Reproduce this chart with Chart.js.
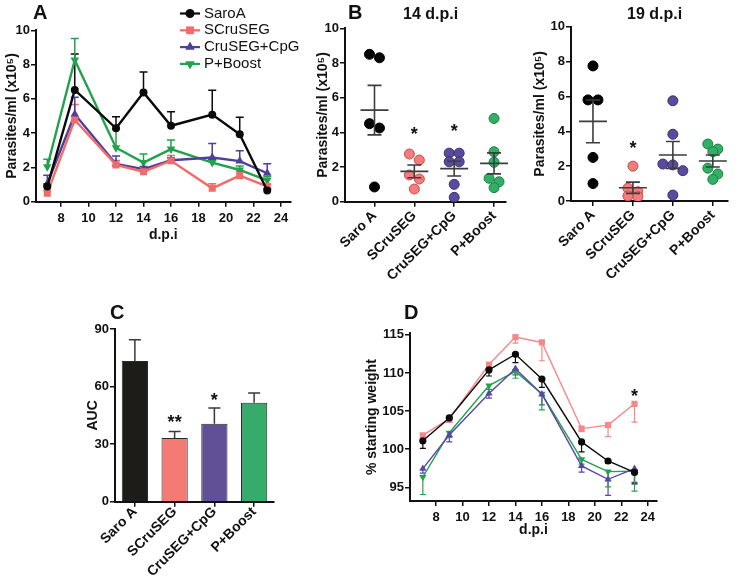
<!DOCTYPE html>
<html>
<head>
<meta charset="utf-8">
<script src="https://cdn.jsdelivr.net/npm/chart.js@4/dist/chart.umd.min.js"></script>
<style>
  body { margin: 0; background: #fff; }
  #page { position: relative; width: 738px; height: 579px; overflow: hidden; font-family: "Liberation Sans", Arial, sans-serif; color: #111; }
  #page canvas { position: absolute; }
  .tag { position: absolute; font-weight: bold; line-height: 1; white-space: nowrap; }
</style>
</head>
<body>
<div id="page">
  <canvas id="chart-a"></canvas>
  <canvas id="chart-b14"></canvas>
  <canvas id="chart-b19"></canvas>
  <canvas id="chart-c"></canvas>
  <canvas id="chart-d"></canvas>
  <div class="tag" style="left:33px;top:2px;font-size:20px">A</div>
  <div class="tag" style="left:348px;top:2px;font-size:20px">B</div>
  <div class="tag" style="left:403px;top:6px;font-size:16px">14 d.p.i</div>
  <div class="tag" style="left:627px;top:6px;font-size:16px">19 d.p.i</div>
  <div class="tag" style="left:110px;top:302px;font-size:20px">C</div>
  <div class="tag" style="left:404px;top:302px;font-size:20px">D</div>
</div>
<script>
// ---- data ----
const dpi = [7, 9, 12, 14, 16, 19, 21, 23];
const dpiTicks = [8, 10, 12, 14, 16, 18, 20, 22, 24];
const groups = ["Saro A", "SCruSEG", "CruSEG+CpG", "P+Boost"];
const legendNames = ["SaroA", "SCruSEG", "CruSEG+CpG", "P+Boost"];

// A: parasitaemia (x10^5), mean and upper SEM
const paraSaroA = [0.88, 6.52, 4.28, 6.37, 4.43, 5.08, 3.93, 0.65];
const paraSaroAErr = [0.15, 2.1, 0.68, 1.2, 0.82, 1.42, 0.99, 0.1];
const paraSCruSEG = [0.5, 4.77, 2.15, 1.75, 2.39, 0.78, 1.52, 0.9];
const paraSCruSEGErr = [0.15, 0.9, 0.25, 0.15, 0.3, 0.27, 0.25, 0.12];
const paraCpG = [1.05, 5.1, 2.2, 1.9, 2.42, 2.58, 2.37, 1.66];
const paraCpGErr = [0.5, 1.0, 0.47, 0.15, 0.15, 0.82, 0.6, 0.55];
const paraBoost = [2.04, 8.27, 3.15, 2.28, 3.07, 2.28, 1.85, 1.25];
const paraBoostErr = [0.43, 1.25, 1.1, 0.5, 0.53, 0.15, 0.23, 0.2];
const parasiteTicks = [0, 2, 4, 6, 8, 10];

// B: individual mice
const d14SaroA = [8.5, 8.3, 4.5, 4.25, 0.85];
const d14SCruSEG = [2.75, 2.4, 1.54, 1.31, 0.73];
const d14CpG = [2.8, 2.8, 2.3, 2.3, 1.0, 0.25];
const d14Boost = [4.8, 2.88, 2.27, 1.35, 1.15, 0.81];
const d14StarText = ["", "*", "*", ""];
const d14StarAt = [0, 4.0, 4.2, 0];
const d19SaroA = [7.75, 5.8, 5.8, 2.5, 1.0];
const d19SCruSEG = [2.0, 0.73, 0.53, 0.29, 0.25];
const d19CpG = [5.75, 3.83, 2.12, 2.07, 1.74, 0.34];
const d19Boost = [3.27, 2.98, 2.83, 1.88, 1.55, 1.24];
const d19StarText = ["", "*", "", ""];
const d19StarAt = [0, 3.15, 0, 0];

// C: area under curve
const aucMean = [73.3, 33.2, 40.6, 51.6];
const aucErr = [11.1, 3.4, 8.2, 5.0];
const aucStarText = ["", "**", "*", ""];
const aucStarAt = [0, 42.5, 53.8, 0];
const aucTicks = [0, 30, 60, 90];

// D: % starting weight, mean and lower SEM
const wSaroA = [101.1, 104.1, 110.4, 112.45, 109.2, 100.95, 98.45, 96.95];
const wSaroAErr = [1.0, 0.6, 0.8, 1.1, 1.1, 1.3, 0.3, 1.5];
const wSCruSEG = [101.8, 104.0, 111.1, 114.7, 114.0, 102.7, 103.15, 105.95];
const wSCruSEGErr = [0.3, 0.5, 0.8, 0.8, 2.4, 0.4, 1.5, 2.4];
const wCpG = [97.45, 101.85, 107.3, 110.55, 107.2, 97.8, 96.05, 97.45];
const wCpGErr = [0.6, 0.9, 0.6, 0.8, 1.4, 0.8, 2.1, 1.8];
const wBoost = [96.35, 102.15, 108.35, 110.2, 107.25, 98.65, 97.05, 97.1];
const wBoostErr = [2.3, 0.6, 0.5, 0.9, 2.1, 0.6, 2.0, 2.6];
const weightStarText = ["*"];
const weightStarX = [23];
const weightStarAt = [107.2];
const weightTicks = [95, 100, 105, 110, 115];

// ---- look ----
const FONT = "'Liberation Sans', Arial, sans-serif";
Chart.defaults.font.family = FONT;
Chart.defaults.color = "#111";
Chart.defaults.animation = false;

const tickFont = { size: 13, weight: "bold" };
const groupFont = { size: 14, weight: "bold" };
const titleFont = { size: 14, weight: "bold" };
const axisBorder = { color: "#111", width: 2 };
const axisGrid = { drawOnChartArea: false, drawTicks: true, tickLength: 5, color: "#111", lineWidth: 1.5, offset: false };

function place(id, box) {
  const c = document.getElementById(id);
  c.width = box.width;
  c.height = box.height;
  c.style.left = box.left + "px";
  c.style.top = box.top + "px";
  c.style.width = box.width + "px";
  c.style.height = box.height + "px";
  return c;
}

// padding so that the plot area lands where it does in the figure
function frame(box, area, yw, xh) {
  return {
    left: area.left - box.left - yw,
    top: area.top - box.top,
    right: box.left + box.width - area.right,
    bottom: box.top + box.height - area.bottom - xh,
  };
}

function fixTicks(list) {
  return (s) => { s.ticks = list.map((v) => ({ value: v })); };
}

function drawMarker(ctx, style, x, y, r) {
  ctx.beginPath();
  if (style === "circle") {
    ctx.arc(x, y, r, 0, Math.PI * 2);
  } else if (style === "rect") {
    const s = r * Math.SQRT1_2;
    ctx.rect(x - s, y - s, 2 * s, 2 * s);
  } else {
    const dir = style === "triangle" ? 1 : -1;
    ctx.moveTo(x, y - dir * r);
    ctx.lineTo(x + r * 0.866, y + dir * r * 0.5);
    ctx.lineTo(x - r * 0.866, y + dir * r * 0.5);
    ctx.closePath();
  }
  ctx.fill();
}

// ---- plugins ----
const errorBars = {
  id: "errorBars",
  beforeDatasetsDraw(chart) {
    const ctx = chart.ctx;
    chart.data.datasets.forEach((ds, i) => {
      if (!ds.errors) return;
      const meta = chart.getDatasetMeta(i);
      const ys = chart.scales[meta.yAxisID];
      ctx.save();
      ctx.strokeStyle = ds.errorColor || ds.borderColor;
      ctx.lineWidth = ds.errorWidth || 1.5;
      meta.data.forEach((el, j) => {
        const raw = ds.data[j];
        const v = typeof raw === "object" ? raw.y : raw;
        const end = ys.getPixelForValue(v + ds.errorDir * ds.errors[j]);
        ctx.beginPath();
        ctx.moveTo(el.x, el.y);
        ctx.lineTo(el.x, end);
        ctx.moveTo(el.x - ds.capHalf, end);
        ctx.lineTo(el.x + ds.capHalf, end);
        ctx.stroke();
      });
      ctx.restore();
    });
  },
};

const meanSem = {
  id: "meanSem",
  afterDatasetsDraw(chart) {
    const { ctx } = chart;
    const xs = chart.scales.x, ys = chart.scales.y;
    ctx.save();
    ctx.strokeStyle = "#3d3d3d";
    ctx.lineWidth = 1.6;
    chart.data.datasets.forEach((ds, g) => {
      const vals = ds.data.map((p) => p.y);
      const n = vals.length;
      const mean = vals.reduce((a, b) => a + b, 0) / n;
      const sd = Math.sqrt(vals.reduce((a, b) => a + (b - mean) ** 2, 0) / (n - 1));
      const sem = sd / Math.sqrt(n);
      const cx = xs.getPixelForValue(g);
      const ym = ys.getPixelForValue(mean);
      const lo = ys.getPixelForValue(mean - sem);
      const hi = ys.getPixelForValue(mean + sem);
      ctx.beginPath();
      ctx.moveTo(cx - 14, ym); ctx.lineTo(cx + 14, ym);
      ctx.moveTo(cx, lo); ctx.lineTo(cx, hi);
      ctx.moveTo(cx - 7, lo); ctx.lineTo(cx + 7, lo);
      ctx.moveTo(cx - 7, hi); ctx.lineTo(cx + 7, hi);
      ctx.stroke();
    });
    ctx.restore();
  },
};

const stars = {
  id: "stars",
  afterDatasetsDraw(chart, args, opts) {
    if (!opts.texts) return;
    const { ctx } = chart;
    ctx.save();
    ctx.fillStyle = "#111";
    ctx.font = "bold 18px " + FONT;
    ctx.textAlign = "center";
    ctx.textBaseline = "middle";
    opts.texts.forEach((t, i) => {
      if (!t) return;
      const x = chart.scales.x.getPixelForValue(opts.xs[i]);
      const y = chart.scales.y.getPixelForValue(opts.at[i]);
      ctx.fillText(t, x, y + 3);
    });
    ctx.restore();
  },
};

const lineLegend = {
  id: "lineLegend",
  afterDraw(chart, args, opts) {
    if (!opts.names) return;
    const { ctx } = chart;
    ctx.save();
    chart.data.datasets.forEach((ds, i) => {
      const y = opts.top + i * opts.step;
      ctx.strokeStyle = ds.borderColor;
      ctx.fillStyle = ds.backgroundColor;
      ctx.lineWidth = 2.2;
      ctx.beginPath();
      ctx.moveTo(opts.x, y);
      ctx.lineTo(opts.x + 20, y);
      ctx.stroke();
      drawMarker(ctx, ds.legendMarker, opts.x + 10, y, ds.pointRadius + 0.5);
      ctx.fillStyle = "#111";
      ctx.font = "15px " + FONT;
      ctx.textAlign = "left";
      ctx.textBaseline = "middle";
      ctx.fillText(opts.names[i], opts.x + 24, y);
    });
    ctx.restore();
  },
};

// ---- helpers for series ----
function timeSeries(values, errors, color, style, marker, radius, dir, lw) {
  return {
    data: dpi.map((d, i) => ({ x: d, y: values[i] })),
    borderColor: color,
    backgroundColor: color,
    borderWidth: lw,
    pointStyle: style,
    pointRotation: marker === "triangleDown" ? 180 : 0,
    legendMarker: marker,
    pointRadius: radius,
    pointBorderWidth: 0,
    errors,
    errorDir: dir,
    capHalf: 4,
    errorWidth: 1.5,
  };
}

function swarm(values, group) {
  const sorted = [...values].sort((a, b) => b - a);
  const rows = [];
  sorted.forEach((v) => {
    const row = rows[rows.length - 1];
    if (row && row[0] - v < 0.4) row.push(v);
    else rows.push([v]);
  });
  const pts = [];
  rows.forEach((row) => row.forEach((v, k) => pts.push({ x: group + (k - (row.length - 1) / 2) * 0.25, y: v })));
  return pts;
}

const dotFill = ["#050505", "#f47c7c", "#5b4b9c", "#2fb065"];
const dotEdge = ["#000000", "#c94b4b", "#3d2f7a", "#1b7f45"];

function linearY(min, max, ticks, yw, title) {
  return {
    min, max,
    afterBuildTicks: fixTicks(ticks),
    afterFit: (s) => { s.width = yw; s.paddingTop = 0; s.paddingBottom = 0; },
    grid: axisGrid,
    border: axisBorder,
    ticks: { font: tickFont, color: "#111", padding: 1 },
    title: { display: true, text: title, font: titleFont, color: "#111", padding: 0 },
  };
}

// ---- A ----
const boxA = { left: 0, top: 0, width: 300, height: 248 };
new Chart(place("chart-a", boxA), {
  type: "line",
  data: {
    datasets: [
      timeSeries(paraSaroA, paraSaroAErr, "#0a0a0a", "circle", "circle", 4, 1, 2.4),
      timeSeries(paraSCruSEG, paraSCruSEGErr, "#f36a6a", "rect", "rect", 5, 1, 2.4),
      timeSeries(paraCpG, paraCpGErr, "#4e3f9b", "triangle", "triangle", 5, 1, 2.4),
      timeSeries(paraBoost, paraBoostErr, "#22a24c", "triangle", "triangleDown", 5, 1, 2.4),
    ],
  },
  options: {
    responsive: false,
    layout: { padding: frame(boxA, { left: 36, top: 30.3, right: 290.6, bottom: 201.7 }, 32.4, 41.7) },
    plugins: {
      legend: { display: false },
      tooltip: { enabled: false },
      lineLegend: { names: legendNames, x: 180, top: 13.5, step: 16.8 },
    },
    scales: {
      x: {
        type: "linear", min: 6.18, max: 24.7,
        afterBuildTicks: fixTicks(dpiTicks),
        afterFit: (s) => { s.height = 41.7; s.paddingLeft = 0; s.paddingRight = 0; },
        grid: axisGrid, border: axisBorder,
        ticks: { font: tickFont, color: "#111", padding: 4, maxRotation: 0 },
        title: { display: true, text: "d.p.i", font: titleFont, color: "#111", padding: 0 },
      },
      y: linearY(0, 10, parasiteTicks, 32.4, "Parasites/ml (x10⁵)"),
    },
  },
  plugins: [errorBars, lineLegend],
});

// ---- B ----
function dotChart(id, box, area, yw, sets, starText, starAt, xmin, xmax) {
  new Chart(place(id, box), {
    type: "scatter",
    data: {
      datasets: sets.map((vals, g) => ({
        data: swarm(vals, g),
        backgroundColor: dotFill[g],
        borderColor: dotEdge[g],
        borderWidth: 1,
        pointRadius: 5,
      })),
    },
    options: {
      responsive: false,
      layout: { padding: frame(box, area, yw, 78) },
      plugins: {
        legend: { display: false },
        tooltip: { enabled: false },
        stars: { texts: starText, at: starAt, xs: groups.map((g, i) => i) },
      },
      scales: {
        x: {
          type: "linear", min: xmin, max: xmax,
          afterBuildTicks: fixTicks(groups.map((g, i) => i)),
          afterFit: (s) => { s.height = 78; s.paddingLeft = 0; s.paddingRight = 0; },
          grid: axisGrid, border: axisBorder,
          ticks: { font: groupFont, color: "#111", padding: 1, minRotation: 45, maxRotation: 45, callback: (v) => groups[v] },
        },
        y: linearY(0, 10, parasiteTicks, yw, "Parasites/ml (x10⁵)"),
      },
    },
    plugins: [meanSem, stars],
  });
}

dotChart("chart-b14", { left: 300, top: 0, width: 212, height: 288 },
  { left: 345, top: 28.3, right: 509, bottom: 201.7 }, 30.4,
  [d14SaroA, d14SCruSEG, d14CpG, d14Boost], d14StarText, d14StarAt, -0.74, 3.3);
dotChart("chart-b19", { left: 512, top: 0, width: 226, height: 288 },
  { left: 571, top: 26.7, right: 728, bottom: 201 }, 39.4,
  [d19SaroA, d19SCruSEG, d19CpG, d19Boost], d19StarText, d19StarAt, -0.55, 3.38);

// ---- C ----
const boxC = { left: 60, top: 290, width: 225, height: 289 };
new Chart(place("chart-c", boxC), {
  type: "bar",
  data: {
    labels: groups,
    datasets: [{
      data: aucMean,
      backgroundColor: ["#1d1c18", "#f47a76", "#625096", "#36ab6b"],
      borderColor: "#2a2a2a",
      borderWidth: 1,
      barPercentage: 0.66,
      categoryPercentage: 1,
      errors: aucErr,
      errorDir: 1,
      capHalf: 6,
      errorColor: "#3a3a3a",
      errorWidth: 1.5,
    }],
  },
  options: {
    responsive: false,
    layout: { padding: frame(boxC, { left: 115, top: 329, right: 274, bottom: 501.7 }, 30.4, 75) },
    plugins: {
      legend: { display: false },
      tooltip: { enabled: false },
      stars: { texts: aucStarText, at: aucStarAt, xs: groups.map((g, i) => i) },
    },
    scales: {
      x: {
        offset: true,
        afterFit: (s) => { s.height = 75; s.paddingLeft = 0; s.paddingRight = 0; },
        grid: axisGrid, border: axisBorder,
        ticks: { font: groupFont, color: "#111", padding: -3, minRotation: 45, maxRotation: 45 },
      },
      y: linearY(0, 90, aucTicks, 30.4, "AUC"),
    },
  },
  plugins: [errorBars, stars],
});

// ---- D ----
const boxD = { left: 355, top: 290, width: 383, height: 260 };
function weightSeries(values, errors, color, style, marker, radius) {
  const s = timeSeries(values, errors, color, style, marker, radius, -1, 1.4);
  s.capHalf = 3;
  s.errorWidth = 1.2;
  return s;
}
new Chart(place("chart-d", boxD), {
  type: "line",
  data: {
    datasets: [
      weightSeries(wSaroA, wSaroAErr, "#0a0a0a", "circle", "circle", 3.6),
      weightSeries(wSCruSEG, wSCruSEGErr, "#f5898a", "rect", "rect", 4.4),
      weightSeries(wCpG, wCpGErr, "#5846a8", "triangle", "triangle", 4.2),
      weightSeries(wBoost, wBoostErr, "#22a24c", "triangle", "triangleDown", 4.2),
    ],
  },
  options: {
    responsive: false,
    layout: { padding: frame(boxD, { left: 410, top: 333.3, right: 657, bottom: 501 }, 46.4, 37.6) },
    plugins: {
      legend: { display: false },
      tooltip: { enabled: false },
      stars: { texts: weightStarText, at: weightStarAt, xs: weightStarX },
    },
    scales: {
      x: {
        type: "linear", min: 6.03, max: 24.7,
        afterBuildTicks: fixTicks(dpiTicks),
        afterFit: (s) => { s.height = 37.6; s.paddingLeft = 0; s.paddingRight = 0; },
        grid: axisGrid, border: axisBorder,
        ticks: { font: tickFont, color: "#111", padding: 4, maxRotation: 0 },
        title: { display: true, text: "d.p.i", font: titleFont, color: "#111", padding: 0 },
      },
      y: linearY(93.2, 115.2, weightTicks, 46.4, "% starting weight"),
    },
  },
  plugins: [errorBars, stars],
});
</script>
</body>
</html>
